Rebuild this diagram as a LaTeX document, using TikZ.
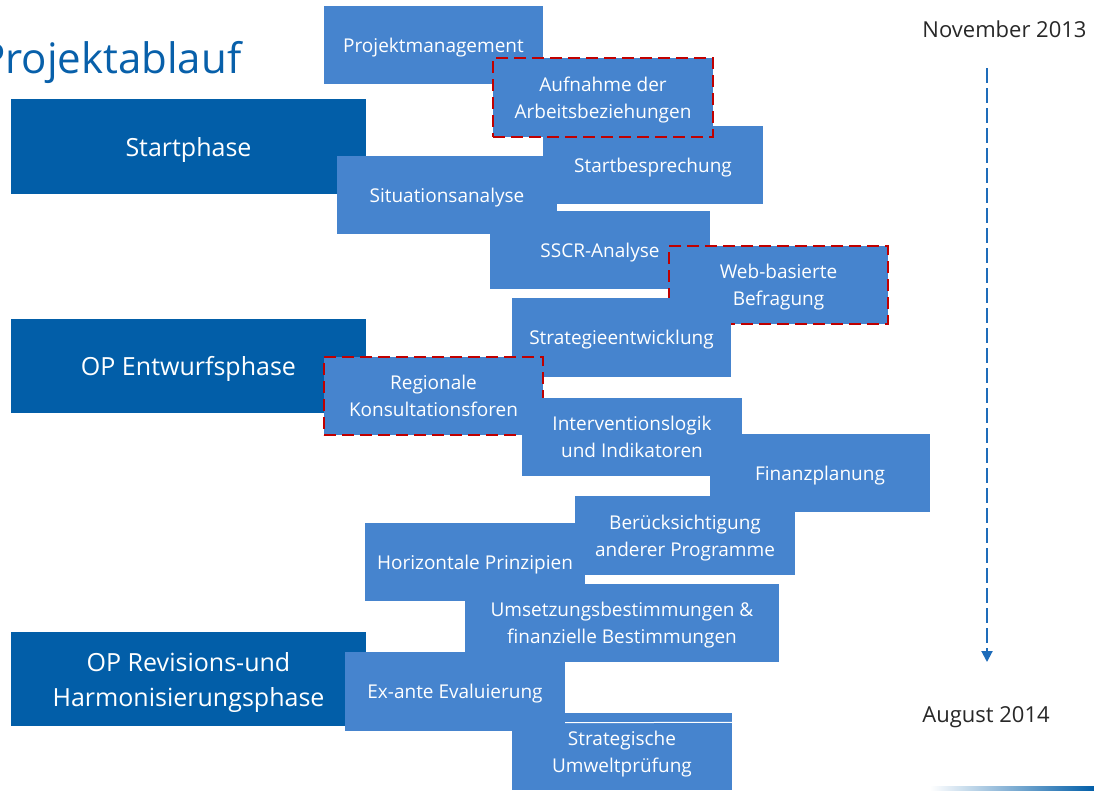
\documentclass[tikz,border=0pt]{standalone}
\usepackage{fontspec}
\setmainfont{Open Sans}
\usetikzlibrary{arrows.meta,calc}
\definecolor{lblue}{RGB}{70,132,206}
\definecolor{dblue}{RGB}{2,94,168}
\definecolor{dred}{RGB}{192,0,0}
\definecolor{ttlblue}{RGB}{8,96,170}
\definecolor{arrblue}{RGB}{30,108,186}
\definecolor{datecol}{RGB}{40,40,40}
\newcommand\bxfont{\fontsize{19}{27}\selectfont}
\newcommand\phfont{\fontsize{25}{35}\selectfont}
\begin{document}
\begin{tikzpicture}[x=1pt,y=-1pt,
  lbox/.style={fill=lblue,text=white,inner sep=0pt,align=center,font=\bxfont,
    text depth=0pt,minimum width=220pt,minimum height=78pt},
  dbox/.style={lbox,draw=dred,line width=2.8pt,dash pattern=on 12pt off 6pt},
  phase/.style={fill=dblue,text=white,inner sep=0pt,align=center,font=\phfont,
    text depth=-1pt,minimum width=355pt,minimum height=94pt},
  datelbl/.style={text=datecol,inner sep=0pt,anchor=base,font=\fontsize{22}{26}\selectfont},
  timearrow/.style={draw=arrblue,line width=2pt,dash pattern=on 15pt off 5pt,
    -{Triangle[width=11pt,length=11pt]}}]
\useasboundingbox (0,0) rectangle (1094,790);
\clip (0,0) rectangle (1094,790);
\fill[white] (0,0) rectangle (1094,790);

% title
\node[anchor=base west,inner sep=0pt,text=ttlblue,font=\fontsize{42}{48}\selectfont] (title) at (-20,73) {Projektablauf};

% phase boxes
\node[phase,minimum height=95pt] (st) at (188.5,146.5) {Startphase};
\node[phase] (ent) at (188.5,366) {OP Entwurfsphase};
\node[phase] (rev) at (188.5,679) {OP Revisions-und\\Harmonisierungsphase};

% activity boxes
\node[lbox,minimum width=219pt] (pm) at (433.5,45) {Projektmanagement};
\node[lbox] (sb) at (653,165) {Startbesprechung};
\node[dbox,minimum height=79pt] (arb) at (603,97.5) {Aufnahme der\\Arbeitsbeziehungen};
\node[lbox] (sa) at (447,195) {Situationsanalyse};
\node[lbox] (sscr) at (600,250) {SSCR-Analyse};
\node[dbox,minimum width=219pt] (web) at (778.5,285) {Web-basierte\\Befragung};
\node[lbox,minimum width=219pt,minimum height=79pt] (strat) at (621.5,337.5) {Strategieentwicklung};
\node[dbox,minimum width=219pt] (reg) at (433.5,396) {Regionale\\Konsultationsforen};
\node[lbox] (int) at (632,437) {Interventionslogik\\und Indikatoren};
\node[lbox] (fin) at (820,473) {Finanzplanung};
\node[lbox] (hp) at (475,562) {Horizontale Prinzipien};
\node[lbox,minimum height=79pt] (ber) at (685,535.5) {Berücksichtigung\\anderer Programme};
\node[lbox,minimum width=314pt] (ums) at (622,623) {Umsetzungsbestimmungen \&\\finanzielle Bestimmungen};
\node[lbox,minimum height=79pt] (ex) at (455,691.5) {Ex-ante Evaluierung};
\node[lbox,minimum height=77pt] (sup) at (622,751.5) {Strategische\\Umweltprüfung};
\draw[white,line width=1pt] ($(ex.south east)+(0,-8.5)$) -- ($(sup.north east)+(0,9.5)$);

% timeline
\node[datelbl] (nov) at (1004.5,37) {November 2013};
\node[datelbl] (aug) at (986,722) {August 2014};
\coordinate (tstart) at (987,68);
\coordinate (tend) at (987,662);
\draw[timearrow] (tstart) -- (tend);

% bottom decoration strip
\shade[left color=white,right color=dblue] (930,786) rectangle (1094,790);
\end{tikzpicture}
\end{document}
